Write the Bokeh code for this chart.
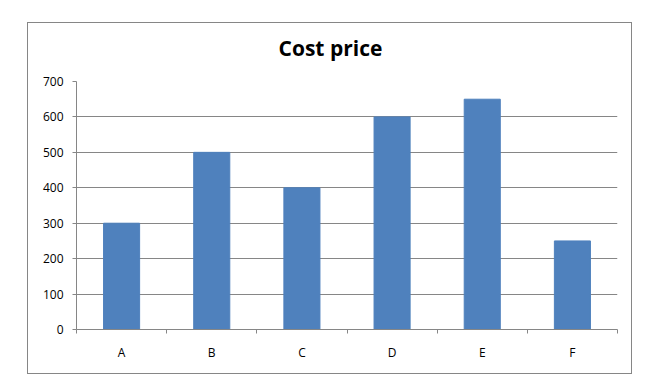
from bokeh.plotting import figure
from bokeh.models import Range1d, FixedTicker, ColumnDataSource, Title
from bokeh.embed import file_html
from bokeh.resources import INLINE

categories = ["A", "B", "C", "D", "E", "F"]
cost = [300, 500, 400, 600, 650, 250]
y_ticks = [0, 100, 200, 300, 400, 500, 600, 700]
title_text = "Cost price"

# outer chart-area border (page pixels) and plot frame (page pixels)
bx0, by0, bx1, by1 = 27, 22, 633, 375
fl, fr, ft, fb = 76, 617, 81, 329
cx0, cy0 = bx0 + 1, by0 + 1
CW, CH = bx1 - cx0, by1 - cy0

xs = [i + 0.5 for i in range(len(categories))]
src = ColumnDataSource(dict(x=xs, top=cost, cat=categories))

p = figure(width=CW, height=CH, output_backend="svg", toolbar_location=None,
           x_range=Range1d(0, len(categories)), y_range=Range1d(0, 700),
           min_border_left=fl - cx0, min_border_right=bx1 - fr,
           min_border_top=ft - cy0, min_border_bottom=by1 - fb,
           title=None)
p.margin = (by0, 0, 0, bx0)
p.styles = {"border": "1px solid #868686"}
p.outline_line_color = None
p.background_fill_color = "white"
p.border_fill_color = "white"

p.vbar(x="x", top="top", width=0.4, bottom=0, source=src, color="#4F81BD")

font = "Open Sans"
# spacer panel between the title and the frame
p.add_layout(Title(text=" ", text_font=font, text_font_size="10px", standoff=4), "above")
p.add_layout(Title(text=title_text, align="left", offset=278 - fl, standoff=0,
                   text_font=font, text_font_style="bold", text_font_size="21px",
                   text_color="black"), "above")

p.yaxis.ticker = FixedTicker(ticks=y_ticks)
p.yaxis.axis_line_color = "#868686"
p.yaxis.major_tick_line_color = "#868686"
p.yaxis.major_tick_out = 4
p.yaxis.major_tick_in = 0
p.yaxis.minor_tick_line_color = None
p.yaxis.major_label_standoff = 9
p.yaxis.major_label_text_font = font
p.yaxis.major_label_text_font_size = "12px"
p.yaxis.major_label_text_color = "black"

p.xaxis.ticker = FixedTicker(ticks=xs, minor_ticks=list(range(len(categories) + 1)))
p.xaxis.major_label_overrides = {x: c for x, c in zip(xs, categories)}
p.xaxis.axis_line_color = "#868686"
p.xaxis.major_tick_line_color = None
p.xaxis.major_tick_out = 0
p.xaxis.major_tick_in = 0
p.xaxis.minor_tick_line_color = "#868686"
p.xaxis.minor_tick_out = 4
p.xaxis.minor_tick_in = 0
p.xaxis.major_label_standoff = 10
p.xaxis.major_label_text_font = font
p.xaxis.major_label_text_font_size = "12px"
p.xaxis.major_label_text_color = "black"

p.xgrid.grid_line_color = None
p.ygrid.ticker = FixedTicker(ticks=y_ticks)
p.ygrid.grid_line_color = "#868686"
p.ygrid.grid_line_width = 1

open("out.html", "w").write(file_html(p, INLINE))
